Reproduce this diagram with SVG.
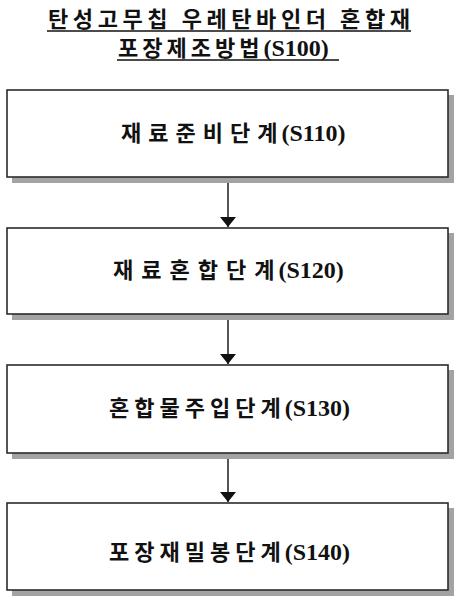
<svg xmlns="http://www.w3.org/2000/svg" width="461" height="604" viewBox="0 0 461 604">
<style>
.shadow{fill:#a3a3a3}
.box{fill:#ffffff;stroke:#2b2b2b;stroke-width:1.6}
.ko{font-family:"Noto Sans CJK KR","Noto Sans",sans-serif;font-weight:700;font-size:22px;fill:#111}
.en{font-family:"Liberation Serif","Times New Roman",serif;font-weight:700;font-size:24px;fill:#111;letter-spacing:0}
.ul{stroke:#111;stroke-width:1.6}
.conn{stroke:#2b2b2b;stroke-width:1.6;fill:none}
</style>
<defs>
<marker id="ah" viewBox="0 0 10 16" refX="10" refY="8" markerWidth="10" markerHeight="16" markerUnits="userSpaceOnUse" orient="auto">
<path d="M0,0 L10,8 L0,16 Z" fill="#111"/>
</marker>
</defs>
<g id="title">
<text class="ko" x="48" y="27" textLength="362" lengthAdjust="spacing">탄성고무칩 우레탄바인더 혼합재</text>
<line class="ul" x1="47" y1="31" x2="411" y2="31"/>
<text x="118" y="56"><tspan class="ko" letter-spacing="4">포장제조방법</tspan><tspan class="en" dx="0">(S100)</tspan></text>
<line class="ul" x1="117" y1="60" x2="339" y2="60"/>
</g>
<g id="connectors">
<line class="conn" x1="228" y1="178" x2="228" y2="227" marker-end="url(#ah)"/>
<line class="conn" x1="228" y1="315" x2="228" y2="364" marker-end="url(#ah)"/>
<line class="conn" x1="228" y1="454" x2="228" y2="502" marker-end="url(#ah)"/>
</g>
<g id="s110">
<rect class="shadow" x="12" y="95" width="442" height="88"/>
<rect class="box" x="7" y="90" width="441" height="87"/>
<text x="121" y="141"><tspan class="ko" letter-spacing="7">재료준비단계</tspan><tspan class="en" dx="-3">(S110)</tspan></text>
</g>
<g id="s120">
<rect class="shadow" x="12" y="233" width="442" height="87"/>
<rect class="box" x="7" y="228" width="441" height="86"/>
<text x="113" y="278"><tspan class="ko" letter-spacing="8">재료혼합단계</tspan><tspan class="en" dx="-4">(S120)</tspan></text>
</g>
<g id="s130">
<rect class="shadow" x="12" y="370" width="442" height="89"/>
<rect class="box" x="7" y="365" width="441" height="88"/>
<text x="109" y="416"><tspan class="ko" letter-spacing="5">혼합물주입단계</tspan><tspan class="en" dx="-1">(S130)</tspan></text>
</g>
<g id="s140">
<rect class="shadow" x="12" y="508" width="442" height="88"/>
<rect class="box" x="7" y="503" width="441" height="87"/>
<text x="109" y="560"><tspan class="ko" letter-spacing="5">포장재밀봉단계</tspan><tspan class="en" dx="-1">(S140)</tspan></text>
</g>
</svg>
